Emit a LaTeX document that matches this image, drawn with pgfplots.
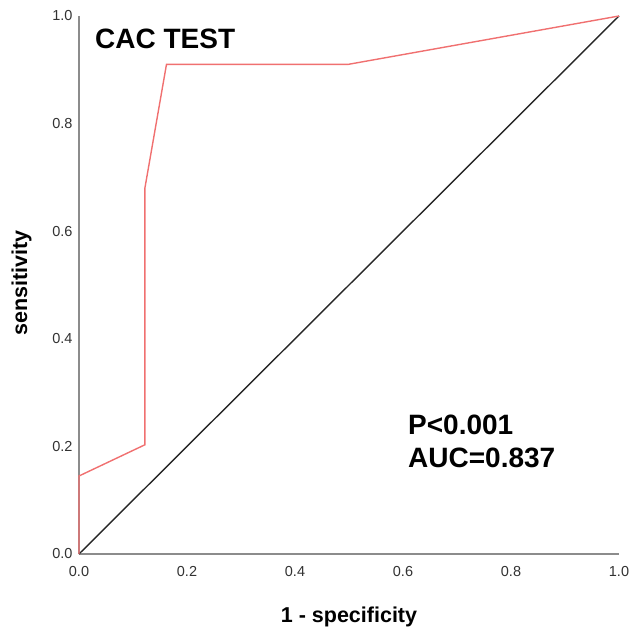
\documentclass[border=0pt]{standalone}
\usepackage{pgfplots}
\pgfplotsset{compat=1.18}
\usepackage{fontspec}
\setmainfont{Liberation Sans}
\definecolor{roc}{RGB}{240,112,112}
\definecolor{axgray}{RGB}{140,140,140}
\definecolor{ticktext}{RGB}{50,50,50}
\begin{document}
\begin{tikzpicture}
\useasboundingbox (0,0) rectangle (632bp,630bp);
\begin{axis}[
  at={(79bp,76bp)}, anchor=south west,
  scale only axis, width=540bp, height=538bp,
  xmin=0, xmax=1, ymin=0, ymax=1,
  axis x line=bottom, axis y line=left,
  axis line style={-, axgray, line width=1.3bp},
  xtick={0,0.2,0.4,0.6,0.8,1.0},
  ytick={0,0.2,0.4,0.6,0.8,1.0},
  major tick length=0pt,
  /pgf/number format/.cd, fixed, fixed zerofill, precision=1, assume math mode=true,
  /pgfplots/.cd,
  tick label style={font=\fontsize{14.5bp}{16bp}\selectfont, text=ticktext},
  xticklabel style={yshift=-9bp},
  yticklabel style={xshift=-3bp},
  clip=false,
]
\addplot[black!85, line width=1.4bp] coordinates {(0,0) (1,1)};
\addplot[roc, line width=1.4bp] coordinates {
  (0,0) (0,0.145) (0.122,0.203) (0.122,0.68) (0.162,0.91) (0.498,0.91) (1,1)
};
\end{axis}
\node[anchor=base west, inner sep=0, font=\fontsize{28bp}{32bp}\selectfont\bfseries] at (95bp,581bp) {CAC TEST};
\node[anchor=base west, inner sep=0, font=\fontsize{28bp}{32bp}\selectfont\bfseries] at (408bp,195bp) {P<0.001};
\node[anchor=base west, inner sep=0, font=\fontsize{28bp}{32bp}\selectfont\bfseries] at (408bp,162bp) {AUC=0.837};
\node[anchor=base, inner sep=0, font=\fontsize{21.5bp}{24bp}\selectfont\bfseries] at (349bp,8bp) {1 - specificity};
\node[anchor=base, rotate=90, inner sep=0, font=\fontsize{21.5bp}{24bp}\selectfont\bfseries] at (27bp,347bp) {sensitivity};
\end{tikzpicture}
\end{document}
